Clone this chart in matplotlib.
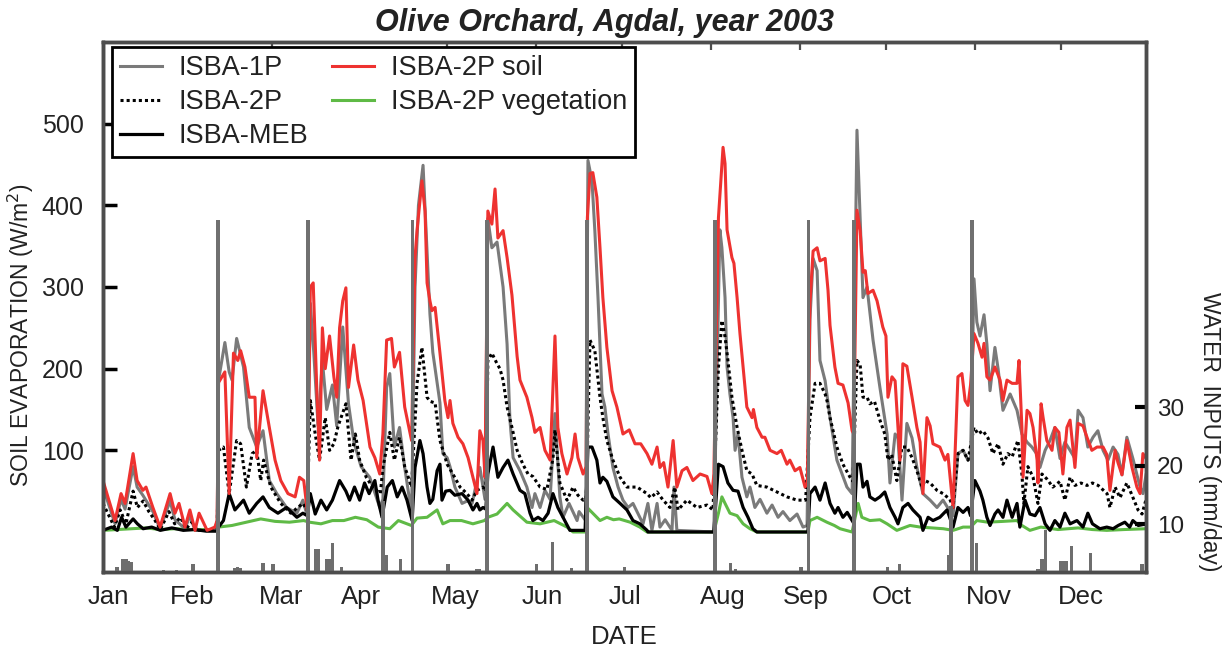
import numpy as np
import matplotlib
matplotlib.use("Agg")
import matplotlib.pyplot as plt

plt.rcParams['font.family'] = ['Liberation Sans', 'DejaVu Sans']

# day of year (0 = Jan 1) and W/m2
isba1p_day = [0, 4.2, 6.3, 7.7, 10.5, 11.9, 13.9, 17.4, 19.9, 23.4, 25.1, 28.6, 30.3, 32.1, 36.3, 39.8,
              40.3, 42.5, 44, 45, 46.6, 49, 51, 53.6, 55.8, 58, 60.6, 64, 67.6, 69.7, 71.2,
              72.3, 73.5, 75, 76.5, 78, 80, 81.5, 83.6, 85.6, 87.5, 90, 93, 96.5, 97.6,
              98.9, 100, 101.6, 103.4, 105.2, 107.6,
              108.8, 110, 111.6, 112.5, 114, 115, 117.5, 118.5, 120, 121, 122.7, 125.2, 127, 128.7, 131.4, 132.5, 133.2,
              134.2, 135.6, 137.4, 139.5, 140.9, 141.9, 143, 145.4, 147.8, 149.6, 150.6, 152.4, 154.1, 155.9, 157.6,
              159.3, 160.4, 162.5, 165.3, 166, 168.3,
              169.1, 170.5, 171.5, 172.6, 174, 175, 176.1, 177.8, 179.6, 181.3, 183.1, 184.8, 186.5, 188.3, 190,
              191.4, 193.2, 194.2, 196, 198.4, 199.1, 200.1, 213,
              215.1, 215.8, 216.9, 217.6, 218.6, 219.7, 220.4, 221.4, 222.8, 224.5, 225.6, 227.3, 229.1, 231.5,
              233.3, 235.4, 237.1, 239.5, 242, 244.1, 245.5,
              246.5, 247.6, 249, 250, 251.8, 252.4, 253.5, 255.9, 257.7, 259.4, 261.2,
              262.9, 264.6, 265, 266.4, 268.5, 270.9, 273.4, 274.4, 276.2, 277.2, 278.6, 280.3, 282.1, 283.8,
              285.9, 288.4, 290.8, 292.9, 294.5, 296.4, 298.1, 299.9, 301.6, 302.5,
              303.7, 304.7, 305.8, 307.2, 308.2, 309.3, 311, 312.1, 313.8, 316.3, 318.7, 320.4, 322.2, 323.9,
              325.7, 326.7, 328.5, 330.2, 331.9, 333.7, 335.4, 337.2, 338.9, 340, 341.7, 343.4, 345.2, 346.9,
              348.7, 350.4, 352.2, 353.9, 355.3, 357, 359.1, 361.6, 362.6, 363.7]
isba1p_val = [55, 10, 40, 28, 80, 55, 45, 25, 4, 38, 15, 4, 20, 2, 2, 3,
              186, 232, 196, 186, 237, 202, 128, 104, 124, 63, 47, 30, 23, 39, 20,
              280, 220, 130, 210, 150, 180, 130, 251, 157, 110, 80, 67, 30, 40,
              177, 194, 104, 128, 79, 23,
              300, 400, 449, 380, 267, 220, 158, 96, 91, 80, 55, 35, 38, 35, 79, 55, 40,
              384, 348, 355, 300, 230, 137, 91, 75, 55, 30, 47, 30, 51, 40, 145,
              43, 18, 35, 14, 25, 14,
              455, 430, 369, 287, 169, 153, 120, 79, 55, 39, 30, 35, 23, 10, 35,
              2, 35, 6, 15, 2, 55, 2, 0,
              370, 348, 287, 202, 169, 140, 100, 120, 67, 43, 55, 30, 40, 23,
              33, 18, 25, 14, 22, 6, 8,
              260, 335, 320, 210, 185, 169, 140, 88, 71, 55, 47,
              492, 329, 287, 300, 235, 177, 120, 60, 120, 115, 39, 133, 115, 79,
              47, 39, 30, 39, 30, 20, 96, 100, 88, 90,
              310, 257, 240, 266, 230, 173, 226, 200, 149, 169, 149, 120, 110, 104,
              95, 79, 100, 112, 128, 90, 110, 100, 90, 149, 140, 104, 116, 124,
              100, 88, 104, 95, 70, 116, 90, 55, 47, 70]

isba2p_day = [0, 4, 6, 8, 10.5, 12, 14, 16, 18, 20, 23, 25, 27, 29, 31, 33, 36, 39.8,
              40.3, 42, 44, 46.6, 48, 50, 52, 53.6, 55, 56, 58.5, 62, 65.5, 69.7, 71.2,
              72.3, 74, 75.5, 77.5, 79, 80.5, 82, 84.7, 86.5, 88, 89.5, 91.8, 94, 96.7, 97.6,
              100, 101.6, 103.4, 105.2, 107.6,
              109.5, 111.2, 113, 114, 115.8, 117.5, 120, 122, 124.5, 126.9, 128.7, 130.4, 132.5, 133.5,
              134.2, 135.6, 137.4, 138.4, 139.5, 140.9, 142.6, 144.4, 146.4, 148.2, 149.9, 152.4, 154.8, 156.9,
              157.6, 159.3, 161.8, 163.9, 165.6, 167.4, 168.5,
              169.8, 171.5, 173.3, 174.3, 175.7, 177.8, 180.3, 182.7, 186.2, 189.7, 191, 193.2, 195.3, 197.7,
              199.4, 200.5, 203.6, 207.1, 210.6, 212.7,
              214.6, 215.8, 216.9, 217.9, 219.3, 221.1, 222.8, 224.5, 226.3, 228, 231.5, 235, 238.5, 242, 245,
              246.5, 248.3, 250, 251.8, 252.5, 253.5, 255.9, 258, 260.5, 261.5,
              262.9, 264, 265, 266.4, 267.4, 269, 270.9, 272.6, 273.7, 275, 276.8, 278.6, 280.3, 282.1, 283.8,
              285.6, 286.6, 288.4, 290.8, 292.9, 295.3, 296.4, 298.1, 299.9, 301.6,
              303.7, 305.1, 306.8, 308.6, 310.3, 312.1, 313.8, 315.5, 317, 319, 320.4, 321.1, 322.5, 324.3,
              326, 327.4, 329.1, 331.2, 333.7, 335.4, 337.2, 338.9, 341, 343.1, 345, 347, 350.1, 351.1,
              352.9, 354.6, 357, 358.8, 360.9, 362.3, 363.7]
isba2p_val = [35, 6, 27, 10, 50, 30, 38, 25, 15, 3, 25, 10, 18, 4, 12, 2, 2, 3,
              100, 104, 47, 112, 108, 55, 96, 100, 63, 88, 55, 35, 23, 35, 27,
              161, 120, 88, 140, 100, 108, 130, 157, 88, 120, 88, 67, 55, 47, 79,
              122, 88, 116, 80, 55,
              182, 226, 165, 160, 158, 112, 83, 71, 55, 47, 39, 51, 55, 50,
              210, 219, 206, 200, 186, 153, 128, 100, 83, 71, 68, 55, 52, 90,
              125, 60, 39, 55, 45, 39, 40,
              235, 222, 165, 140, 112, 88, 67, 55, 55, 47, 42, 49, 39, 30,
              55, 27, 39, 30, 33, 27,
              202, 259, 239, 210, 165, 128, 100, 75, 71, 57, 55, 49, 43, 39, 39,
              140, 182, 182, 169, 160, 140, 104, 83, 67, 62,
              210, 205, 165, 165, 157, 160, 137, 120, 88, 95, 63, 104, 104, 91, 75,
              55, 63, 60, 51, 47, 40, 30, 96, 100, 88,
              128, 120, 124, 115, 96, 108, 83, 96, 92, 112, 71, 35, 80, 67,
              35, 71, 65, 55, 62, 39, 67, 57, 60, 57, 60, 57, 47, 30,
              55, 42, 60, 45, 27, 22, 40]

meb_day = [0, 3, 5, 6.5, 8, 10.5, 12, 14, 17, 20, 24, 28, 32, 36, 39.8,
           40.3, 42, 44, 46, 49, 51, 53.6, 55.8, 58, 61, 64, 67.6, 69.7, 71.2,
           72.3, 74, 76, 78, 80, 82.5, 84.7, 86, 87.7, 89.5, 91.2, 92.8, 94.8, 95.9, 97.3,
           99.1, 100.9, 102.6, 104.3, 106, 107.8,
           108.8, 110.5, 111.6, 113, 114, 115, 116.5, 117.5, 118.2, 119.5, 121, 122.7, 125.2, 127.3, 129,
           130.4, 131.4, 132.5, 133.5,
           134.2, 136, 137.7, 139.5, 141.2, 143, 145.4, 147.1, 148.9, 149.9, 151.7, 153.4, 155.2, 156.9,
           158.6, 160.4, 162.8, 168.1,
           169.1, 170.5, 172.2, 173.3, 174.3, 175.7, 177.8, 180.3, 182.7, 184.8, 187.2, 189.7, 190, 213,
           214.6, 216.2, 217.9, 219.7, 221.4, 223.2, 224.9, 226.6, 228, 245.8,
           246.5, 248.3, 250, 251.8, 253.5, 255.2, 256.3, 258, 259.5, 261.2, 261.9,
           262.9, 264, 265, 266.4, 267.4, 269.2, 270.9, 272.6, 274.4, 276.2, 277.2, 278.9, 280.7, 282.4,
           284.9, 285.9, 287.7, 289.4, 291.8, 294.3, 296.4, 298.1, 299.9, 301.6, 302.5,
           304, 305.8, 306.8, 308.2, 309.3, 311, 312.1, 313.8, 315.2, 317, 318.7, 319.7, 321.5, 323.2,
           325, 326.7, 328.5, 330.2, 331.9, 333.7, 335.4, 337.2, 339.6, 341.7, 343.4, 345, 347.6, 350,
           352.2, 354, 356.3, 358, 359.1, 361, 363.7]
meb_val = [2, 6, 2, 18, 6, 16, 10, 4, 6, 2, 5, 2, 3, 1, 1,
           6, 14, 47, 27, 39, 23, 35, 43, 30, 23, 30, 18, 23, 20,
           47, 22, 39, 27, 39, 63, 50, 39, 55, 39, 60, 47, 63, 39, 18,
           55, 63, 43, 55, 39, 14,
           79, 112, 96, 55, 35, 40, 75, 83, 39, 50, 51, 45, 47, 39, 27,
           35, 27, 30, 28,
           71, 104, 67, 79, 88, 71, 51, 47, 23, 14, 18, 14, 23, 47,
           30, 18, 2, 2,
           104, 104, 88, 60, 67, 62, 43, 35, 27, 14, 10, 2, 0, 0,
           83, 80, 60, 51, 50, 30, 18, 4, 0, 0,
           47, 55, 39, 60, 35, 23, 30, 18, 24, 14, 10,
           83, 83, 55, 62, 43, 39, 43, 49, 30, 18, 10, 30, 35, 27,
           18, 2, 18, 14, 18, 27, 6, 30, 24, 30, 20,
           63, 50, 39, 18, 8, 22, 27, 18, 39, 18, 35, 6, 39, 22,
           20, 30, 10, 2, 14, 6, 23, 10, 14, 6, 23, 10, 4, 6,
           4, 8, 12, 6, 14, 8, 10]

soil2p_day = [0, 4.2, 6.3, 7.7, 10.5, 11.9, 13.9, 15, 17.4, 19.9, 23.4, 25.1, 26.5, 28.6, 30.3, 32.1, 33.5, 36.3, 39, 39.8,
              40.3, 42.5, 44, 45.5, 47, 48, 49.5, 51, 53, 53.6, 55.8, 58, 60, 62, 64.5, 67, 68.5, 70, 71.2,
              72.3, 73.3, 74.5, 75.5, 76.5, 77.5, 79, 80.5, 81.5, 82.5, 83.6, 84.7, 85.6, 87.4, 88.9, 90.7,
              93.1, 94.8, 96.5, 97.6,
              98.9, 100.6, 101.6, 103.4, 105.2, 107.6,
              108.8, 109.5, 111.2, 112.3, 113, 114, 114.7, 115.8, 117.5, 119.2, 120.3, 121, 122, 123.8, 125.5,
              127.3, 129, 130.4, 131.4, 132.5, 133.2,
              134.2, 135.6, 136.7, 137.7, 139.5, 140.9, 142.6, 144.4, 145.4, 147.8, 149.6, 150.6, 152.4, 154.1,
              155.9, 157.6, 158.6, 160, 161.8, 163.5, 164.6, 165.6, 167.4, 168.5,
              168.9, 169.8, 170.8, 172.2, 173.3, 174.3, 175.7, 177.5, 179.2, 181.3, 183.5, 185.5, 187.5, 189.7,
              191.4, 193.2, 194.2, 195.5, 197, 198.8, 200.1, 201.9, 203.6, 205.7, 208.2, 210.6, 212.3, 213,
              214.6, 216.2, 216.9, 217.6, 219.3, 220, 221.1, 222.1, 224.5, 226.3, 226.8, 228, 229.8, 230.8,
              232.6, 235, 236.5, 238.5, 239.5, 241.3, 243, 244.8, 245.6,
              246.5, 247.6, 249, 250, 251.8, 252.8, 253.5, 255.2, 256.3, 258, 259.8, 261.2, 261.8,
              262.9, 264, 265, 265.8, 266.7, 268.5, 269.9, 271.9, 273, 273.7, 275.1, 276.2, 277.9, 278.9,
              280.3, 282.1, 283.8, 284.9, 285.9, 287.3, 288.4, 289.4, 291.8, 293.6, 294.6, 296.4, 298.1, 299.5,
              300.6, 301.6, 302.5,
              303.7, 305.1, 306.5, 307.2, 308.2, 309.3, 311, 312.8, 313.8, 315.2, 317, 318.7, 319.4, 320.4,
              320.8, 322.2, 323.2, 324.3, 325.7, 326, 327.1, 327.8, 329.1, 330.9, 331.9, 333.3, 334.7, 336.1,
              337.2, 338.9, 340, 341.7, 343.1, 344.8, 346.6, 348.7, 350, 351.1, 352.9, 353.9, 355.3, 357,
              358.8, 360.5, 361.6, 362.6, 363.7]
soil2p_val = [63, 14, 47, 35, 96, 63, 51, 55, 30, 6, 47, 23, 35, 6, 27, 2, 23, 2, 6, 14,
              183, 196, 47, 219, 210, 222, 202, 165, 165, 91, 173, 128, 88, 63, 47, 43, 67, 63, 27,
              300, 305, 180, 88, 250, 200, 240, 190, 165, 250, 283, 299, 177, 229, 186, 161,
              104, 91, 71, 120,
              235, 237, 202, 220, 153, 112,
              336, 369, 430, 393, 305, 283, 271, 275, 219, 161, 140, 161, 133, 116, 108,
              91, 67, 47, 124, 112, 67,
              393, 377, 420, 360, 369, 336, 290, 215, 186, 165, 140, 122, 128, 100,
              88, 240, 128, 96, 71, 91, 120, 91, 71, 80,
              385, 439, 440, 410, 348, 287, 226, 173, 153, 120, 125, 108, 108, 96,
              83, 104, 79, 85, 55, 112, 55, 75, 79, 63, 71, 68, 47, 70,
              385, 471, 451, 370, 336, 329, 287, 243, 153, 140, 150, 128, 116, 116,
              100, 96, 100, 83, 88, 75, 79, 55, 60,
              280, 344, 348, 332, 335, 296, 253, 202, 182, 180, 158, 124, 120,
              394, 369, 318, 320, 292, 296, 283, 251, 240, 165, 190, 185, 88, 206,
              203, 165, 128, 110, 47, 140, 130, 108, 104, 88, 95, 30, 190, 194,
              161, 155, 180,
              243, 231, 214, 231, 190, 186, 202, 186, 161, 186, 182, 182, 210, 128,
              67, 149, 145, 128, 88, 60, 157, 140, 112, 100, 128, 122, 71, 128,
              137, 79, 133, 130, 116, 100, 104, 104, 95, 51, 100, 85, 70, 112,
              79, 55, 47, 96, 90]

veg2p_day = [0, 5, 10, 15, 20, 25, 30, 35, 39.8,
             40.3, 45, 50, 55, 60, 65, 70,
             72, 76, 80, 84, 88, 92, 96,
             100, 103, 107.5,
             109.5, 113, 116.5, 118.5, 121, 125, 129, 133,
             134.2, 137.4, 140.9, 143, 147.8, 152.4, 157.3, 161.8, 163.9, 168.5,
             169.1, 173.3, 175.7, 178, 180, 183.8, 187.2, 189.7, 213,
             214.6, 215.8, 216.9, 218.6, 221.1, 223.2, 225.6, 228, 245.8,
             246.5, 249, 252.4, 255, 257, 261.2,
             263.3, 264.6, 267.4, 270.9, 273.4, 276.8, 281.4, 285, 289, 293, 296.4, 299.9, 302.5,
             304.7, 308.5, 313.8, 318.7, 320.4, 323.2, 327, 333, 340, 345, 350, 356, 363.7]
veg2p_val = [2, 3, 4, 5, 3, 4, 3, 3, 3,
             6, 8, 12, 16, 13, 12, 14,
             12, 10, 14, 14, 18, 15, 6,
             4, 14, 8,
             17, 18, 27, 10, 14, 14, 10, 14,
             18, 22, 35, 27, 12, 10, 14, 6, 0, 0,
             29, 14, 18, 15, 16, 12, 6, 0, 0,
             23, 43, 35, 23, 20, 10, 4, 0, 0,
             14, 18, 12, 8, 4, 0,
             35, 18, 14, 15, 10, 2, 8, 6, 5, 4, 2, 6, 6,
             14, 12, 13, 14, 8, 2, 6, 3, 5, 3, 2, 3, 4]

# water inputs (mm/day): rain and irrigation
rain_day = [4.9, 7, 8, 9, 10, 21, 25.7, 31.4, 45, 46, 47, 48, 55.8, 59.3, 74, 75, 78, 79, 80, 83.3,
            90.7, 98.7, 103.6, 120.3, 130.4, 131.4, 151.3, 156.6, 163.5, 181.7, 218.8, 220.6, 226,
            243.4, 273.4, 277.6, 295, 295.7, 304.6, 325.7, 326.5, 327.4, 328.5, 334, 335, 336, 337.7,
            344.3, 362.3]
rain_mm = [2.7, 4.1, 4.1, 3.6, 3.5, 2.1, 2.1, 3.2, 2, 2.5, 2.7, 2.5, 3.3, 3.2, 5.8, 5.8, 4.1, 4.1, 6.8, 2.7,
           1.5, 4.7, 4, 3.2, 2.4, 2.4, 3.2, 7, 2.5, 2.7, 3.4, 2.3, 1.5,
           2.7, 2.7, 3.2, 4.7, 13, 6.8, 2.3, 2.3, 4, 9, 3.6, 3.6, 3.6, 6.2,
           5, 3.2]
irrig_day = [40.1, 71.5, 97.6, 108, 133.9, 168.8, 213.4, 246, 261.9, 303]
irrig_mm = [62, 62, 14, 62, 62, 62, 62, 62, 62, 62]

month_start = [31, 59, 90, 120, 151, 181, 212, 243, 273, 304, 334]
month_pos = [1.7, 31, 62, 90, 123, 153, 182, 216, 245, 275, 309, 341]
month_lab = ['Jan', 'Feb', 'Mar', 'Apr', 'May', 'Jun', 'Jul', 'Aug', 'Sep', 'Oct', 'Nov', 'Dec']

txt = '#222222'
spine_c = '#4d4d4d'

fig = plt.figure(figsize=(12.26, 6.55), dpi=100)
ax = fig.add_axes([0.084, 0.1267, 0.8508, 0.8092])
ax2 = ax.twinx()

l_veg, = ax.plot(veg2p_day, veg2p_val, color='#5fba46', lw=2.2, label='ISBA-2P vegetation')
l_1p, = ax.plot(isba1p_day, isba1p_val, color='#7a7a7a', lw=2.2, label='ISBA-1P')
l_2p, = ax.plot(isba2p_day, isba2p_val, color='black', lw=2.2, ls=(0, (1, 1)), label='ISBA-2P')
l_meb, = ax.plot(meb_day, meb_val, color='black', lw=2.3, label='ISBA-MEB')
l_soil, = ax.plot(soil2p_day, soil2p_val, color='#ee3230', lw=2.2, label='ISBA-2P soil')

ax2.bar(rain_day, rain_mm, width=1.1, bottom=0, color='#6e6e6e', align='center', linewidth=0)
ax2.bar(irrig_day, irrig_mm, width=1.2, bottom=0, color='#707070', align='center', linewidth=0)

ax.set_xlim(0, 363.7)
ax.set_ylim(-49, 600)
ax2.set_ylim(1.8, 92.4)

ax.set_yticks([100, 200, 300, 400, 500])
ax.tick_params(axis='y', direction='in', length=10, width=2.5, color='black',
               labelsize=18, labelcolor=txt, pad=14)
ax.set_xticks(month_pos)
ax.set_xticklabels(month_lab)
ax.tick_params(axis='x', which='major', length=0, labelsize=18.5, labelcolor=txt, pad=9)
ax.set_xticks(month_start, minor=True)
ax.tick_params(axis='x', which='minor', direction='in', length=6, width=1.6, color=spine_c,
               top=True, bottom=False)

ax2.set_yticks([10, 20, 30])
ax2.tick_params(axis='y', direction='in', length=8, width=3, color='black',
                labelsize=17.5, labelcolor=txt, pad=8)

for a in (ax, ax2):
    for s in a.spines.values():
        s.set_color(spine_c)
        s.set_linewidth(2.5)
ax.spines['left'].set_color('#222222')

ax.set_title('Olive Orchard, Agdal, year 2003', fontsize=22, fontweight='bold',
             fontstyle='italic', color=txt, pad=8, x=0.481)
ax.set_xlabel('DATE', fontsize=18.5, color=txt, labelpad=12)
ax.set_ylabel('SOIL EVAPORATION (W/m$^2$)', fontsize=16.5, color=txt)
ax.yaxis.set_label_coords(-0.064, 0.447)
ax2.set_ylabel('WATER  INPUTS (mm/day)', fontsize=16.5, color=txt, rotation=-90, va='center')
ax2.yaxis.set_label_coords(1.061, 0.264)

leg = ax2.legend([l_1p, l_2p, l_meb, l_soil, l_veg],
                 ['ISBA-1P', 'ISBA-2P', 'ISBA-MEB', 'ISBA-2P soil', 'ISBA-2P vegetation'],
                 loc='upper left', bbox_to_anchor=(0.0086, 0.9906), borderaxespad=0,
                 ncol=2, fontsize=19.5, frameon=True, fancybox=False, framealpha=1,
                 edgecolor='black', handlelength=1.55, handletextpad=0.6, columnspacing=0.9,
                 labelspacing=0.3, borderpad=0.3)
leg.get_frame().set_linewidth(2)
for t in leg.get_texts():
    t.set_color(txt)

fig.savefig('out.png', dpi=100)
